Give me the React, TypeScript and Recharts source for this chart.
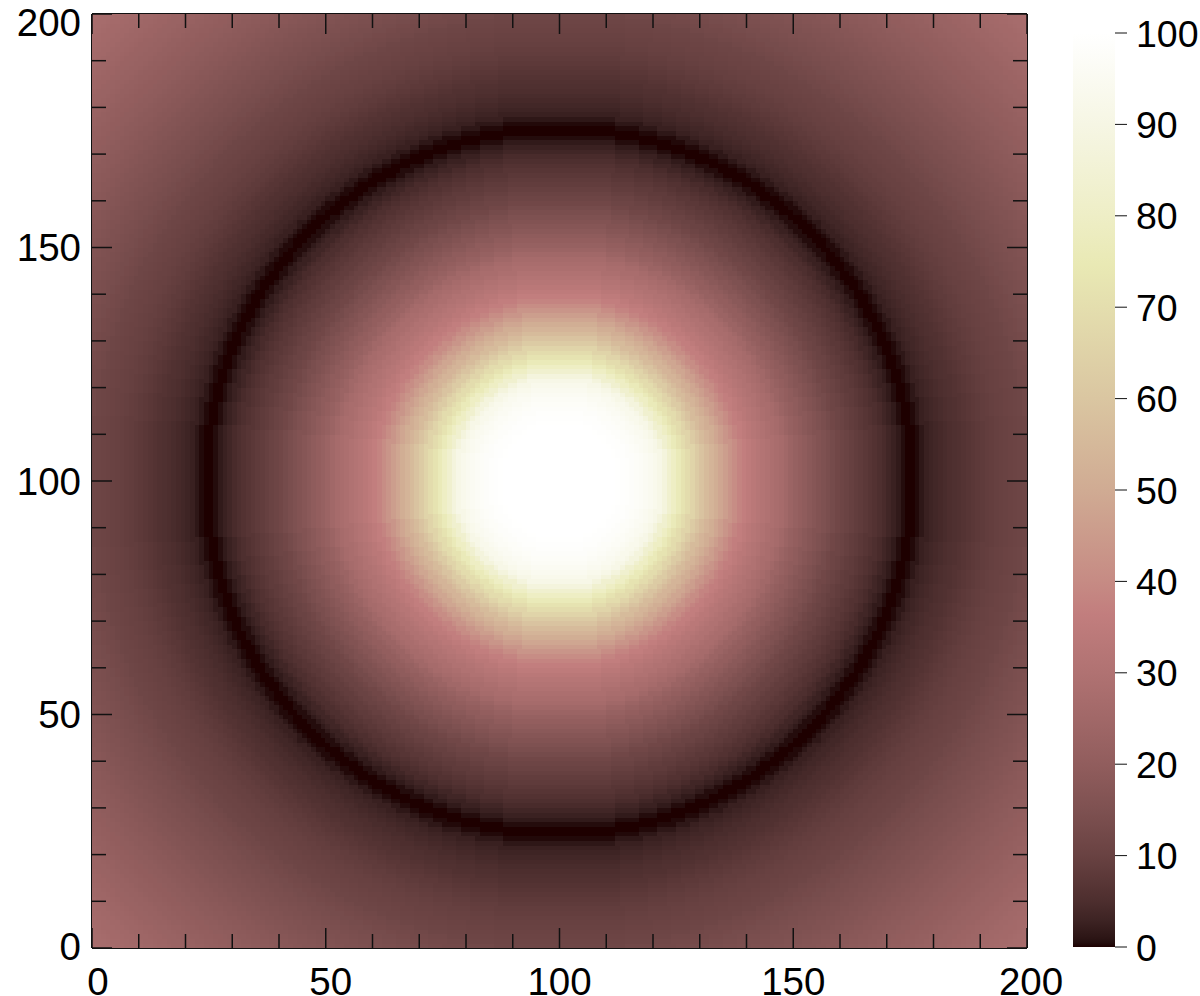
import React from "react";
import {
  Bar,
  BarChart,
  ScatterChart,
  Scatter,
  XAxis,
  YAxis
} from "recharts";

// cell centres along each side, the image is a 200 x 200 grid over 0-200
const gridCentres = Array.from({ length: 200 }, (_, i) => i + 0.5);

const radialValues = [
  100, 100, 100, 100, 100, 100, 100, 100, 100, 100, 100, 100,
  100, 99.8, 99.4, 99, 98.3, 97.5, 96.7, 95.7, 94.5, 93, 91, 87.5, 83, 79.5, 76, 72, 69, 66,
  62, 59, 56, 53.5, 51, 48.5, 46, 43, 40.5, 38, 36.5, 35, 33.5, 32, 31, 30, 28.5, 27.5, 26.5, 25,
  23, 21.7, 20.6, 19.4, 18.2, 17, 16, 15, 14, 12.9, 11.8, 11, 10.2, 9.5, 8.8, 8.2, 7.5, 6.8, 6, 5.2,
  4.4, 3.4, 2.6, 1.6, 0.4, 0, 0, 0.3, 1.2, 2.4, 3, 3.5, 4, 4.5, 5, 5.4, 5.8, 6.3, 6.8, 7.3,
  7.8, 8.2, 8.7, 9.1, 9.5, 9.8, 10.1, 10.4, 10.7, 11, 11.3,
  12, 12.4, 12.8, 13.2, 13.6, 14, 14.4, 14.8, 15.1, 15.5, 15.9, 16.3, 16.7, 17.1, 17.5, 17.9, 18.3, 18.6, 19, 19.4,
  19.8, 20.2, 20.6, 21, 21.4, 21.8, 22.1, 22.5, 22.9, 23.3, 23.7, 24.1, 24.5, 24.9, 25.3, 25.6, 26, 26.4, 26.8, 27.2,
  27.6, 28, 28.4, 28.8
];

// colour bar stops, value then colour
const colourValues = [0, 0.5, 1, 3, 5, 10, 15, 20, 25, 30, 36.5, 40, 50, 60, 70, 74.6, 80, 90, 100];
const colourHexes = [
  "#1e0000", "#250f0f", "#2c1515", "#3e2424", "#4d2e2e", "#694242", "#7e5151", "#915d5d", "#a16868", "#b07272",
  "#c27e7e", "#c68b84", "#d0ab93", "#dac6a1", "#e4deae", "#e9e9b4", "#eeeec6", "#f6f6e4", "#ffffff"
];

const axisTicks = [0, 10, 20, 30, 40, 50, 60, 70, 80, 90, 100, 110, 120, 130, 140, 150, 160, 170, 180, 190, 200];
const colourTicks = [0, 10, 20, 30, 40, 50, 60, 70, 80, 90, 100];
// the far corners, so the top and right axes have something to scale
const cornerPoints = [{ x: 0, y: 0 }, { x: 200, y: 200 }];

const FONT = '"Liberation Sans", Arial, sans-serif';
const TICK_COLOR = "#111111";

const toRgb = (hex: string) => [1, 3, 5].map((i) => parseInt(hex.slice(i, i + 2), 16));

const colourFor = (value: number) => {
  let i = 0;
  while (i < colourValues.length - 2 && value > colourValues[i + 1]) i++;
  const t = (value - colourValues[i]) / (colourValues[i + 1] - colourValues[i]);
  const a = toRgb(colourHexes[i]);
  const b = toRgb(colourHexes[i + 1]);
  return `rgb(${a.map((c, k) => Math.round(c + (b[k] - c) * t)).join(",")})`;
};

const cells = gridCentres.flatMap((x) =>
  gridCentres.map((y) => {
    const ring = Math.round(Math.hypot(x - 100, y - 100));
    return { x, y, colour: colourFor(radialValues[ring]) };
  })
);

const CellShape = ({ cx, cy, payload }: any) => (
  <rect x={cx - 2.6} y={cy - 2.6} width={5.2} height={5.2} fill={payload.colour} shapeRendering="crispEdges" />
);

const NoShape = () => <g />;

const inwardLength = (value: number) => (value % 50 === 0 ? 20 : 14);

const BottomTick = ({ x, y, payload }: any) => {
  const v = payload.value;
  const nudge = v === 0 ? 6 : v === 50 ? 5 : v === 200 ? 4 : 0;
  return (
    <g>
      <line x1={x} x2={x} y1={y} y2={y - inwardLength(v)} stroke={TICK_COLOR} strokeWidth={1.5} />
      {v % 50 === 0 && (
        <text x={x + nudge} y={995} textAnchor="middle" fontSize={38.5} fontFamily={FONT} fill="#000">
          {v}
        </text>
      )}
    </g>
  );
};

const TopTick = ({ x, y, payload }: any) => (
  <line x1={x} x2={x} y1={y} y2={y + inwardLength(payload.value)} stroke={TICK_COLOR} strokeWidth={1.5} />
);

const LeftTick = ({ x, y, payload }: any) => {
  const v = payload.value;
  const nudge = v === 200 ? 8 : v === 0 ? -2 : 0;
  return (
    <g>
      <line x1={x} x2={x + inwardLength(v)} y1={y} y2={y} stroke={TICK_COLOR} strokeWidth={1.5} />
      {v % 50 === 0 && (
        <text x={81} y={y + nudge + 13.5} textAnchor="end" fontSize={38.5} fontFamily={FONT} fill="#000">
          {v}
        </text>
      )}
    </g>
  );
};

const RightTick = ({ x, y, payload }: any) => (
  <line x1={x} x2={x - inwardLength(payload.value)} y1={y} y2={y} stroke={TICK_COLOR} strokeWidth={1.5} />
);

const ColourTick = ({ x, y, payload }: any) => (
  <g>
    <line x1={x} x2={x + 12} y1={y} y2={y} stroke={TICK_COLOR} strokeWidth={1} />
    <text x={x + 21} y={y + 13.5} fontSize={37.5} fontFamily={FONT} fill="#000">
      {payload.value}
    </text>
  </g>
);

const frameLine = { stroke: "#111111", strokeWidth: 2 };

export default function App() {
  return (
    <div style={{ position: "absolute", left: 0, top: 0, width: 1200, height: 996, background: "#fff" }}>
      <div style={{ position: "absolute", left: 0, top: 0 }}>
        <ScatterChart width={1073} height={996} margin={{ top: 0, right: 0, bottom: 0, left: 0 }}>
          <Scatter data={cells} xAxisId="b" yAxisId="l" shape={CellShape} isAnimationActive={false} />
          <Scatter data={cornerPoints} xAxisId="t" yAxisId="r" shape={NoShape} isAnimationActive={false} />
          <XAxis xAxisId="b" dataKey="x" type="number" domain={[0, 200]} ticks={axisTicks} interval={0} height={48} orientation="bottom" axisLine={frameLine} tickLine={false} tickSize={0} tickMargin={0} tick={<BottomTick />} />
          <XAxis xAxisId="t" dataKey="x" type="number" domain={[0, 200]} ticks={axisTicks} interval={0} height={14} orientation="top" axisLine={frameLine} tickLine={false} tickSize={0} tickMargin={0} tick={<TopTick />} />
          <YAxis yAxisId="l" dataKey="y" type="number" domain={[0, 200]} ticks={axisTicks} interval={0} width={92} orientation="left" axisLine={frameLine} tickLine={false} tickSize={0} tickMargin={0} tick={<LeftTick />} />
          <YAxis yAxisId="r" dataKey="y" type="number" domain={[0, 200]} ticks={axisTicks} interval={0} width={46} orientation="right" axisLine={frameLine} tickLine={false} tickSize={0} tickMargin={0} tick={<RightTick />} />
        </ScatterChart>
      </div>
      <div style={{ position: "absolute", left: 1073, top: 0 }}>
        <BarChart
          width={127}
          height={996}
          data={[{ name: "scale", range: [0, 100] }]}
          margin={{ top: 33, right: 0, bottom: 49, left: 0 }}
          barCategoryGap={0}
        >
          <defs>
            <linearGradient id="pinkScale" x1="0" y1="1" x2="0" y2="0">
              {colourValues.map((v, i) => (
                <stop key={v} offset={`${v}%`} stopColor={colourHexes[i]} />
              ))}
            </linearGradient>
          </defs>
          <XAxis dataKey="name" hide />
          <YAxis orientation="right" type="number" domain={[0, 100]} ticks={colourTicks} interval={0} width={85} axisLine={false} tickLine={false} tickSize={0} tickMargin={0} tick={<ColourTick />} />
          <Bar dataKey="range" fill="url(#pinkScale)" isAnimationActive={false} />
        </BarChart>
      </div>
    </div>
  );
}
